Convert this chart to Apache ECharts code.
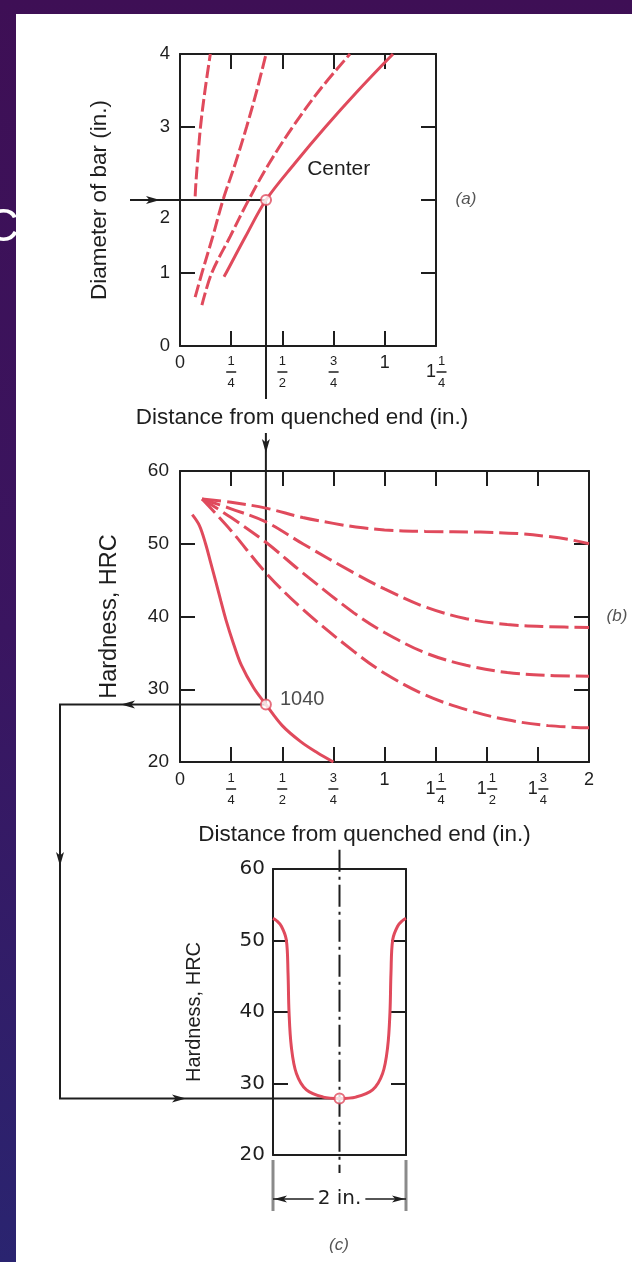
<!DOCTYPE html>
<html>
<head>
<meta charset="utf-8">
<script src="https://cdn.jsdelivr.net/npm/echarts@6/dist/echarts.min.js"></script>
<style>
  html, body { margin: 0; padding: 0; background: #fff; }
  #chart { width: 632px; height: 1262px; }
</style>
</head>
<body>
<div id="chart"></div>
<script>
// ---- Panel (a): bar diameter vs. equivalent distance from the quenched end ----
const distTicksA = ['0', '1/4', '1/2', '3/4', '1', '1 1/4'];
const diamTicks = ['0', '1', '2', '3', '4'];
// Center location (solid)
const centerDist = [0.215, 0.225, 0.32, 0.42, 0.56, 0.71, 0.87, 1.04];
const centerDiam = [0.95, 1.0, 1.5, 2.0, 2.5, 3.0, 3.5, 4.0];
// Other radial positions (dashed)
const posADist = [0.074, 0.078, 0.085, 0.10, 0.122, 0.148];
const posADiam = [2.05, 2.25, 2.5, 3.0, 3.5, 4.0];
const posBDist = [0.074, 0.107, 0.16, 0.21, 0.27, 0.325, 0.375, 0.42];
const posBDiam = [0.67, 1.0, 1.5, 2.0, 2.5, 3.0, 3.5, 4.0];
const posCDist = [0.107, 0.155, 0.245, 0.335, 0.435, 0.55, 0.68, 0.83];
const posCDiam = [0.56, 1.0, 1.5, 2.0, 2.5, 3.0, 3.5, 4.0];

// ---- Panel (b): Jominy hardness curves ----
const distTicksB = ['0', '1/4', '1/2', '3/4', '1', '1 1/4', '1 1/2', '1 3/4', '2'];
const hrcTicks = ['20', '30', '40', '50', '60'];
const steel1040Dist = [0.06, 0.095, 0.125, 0.15, 0.175, 0.2, 0.225, 0.26, 0.30, 0.36, 0.42, 0.50, 0.59, 0.67, 0.75];
const steel1040Hrc  = [54, 52.5, 50, 47.4, 44.8, 42.1, 39.5, 36.4, 33.3, 30.2, 27.9, 25.0, 22.8, 21.3, 20];
const alloyADist = [0.108, 0.25, 0.42, 0.60, 0.75, 0.86, 1.0, 1.2, 1.47, 1.65, 1.8, 1.9, 2.0];
const alloyAHrc  = [56.15, 55.7, 54.9, 53.6, 52.8, 52.3, 51.9, 51.7, 51.6, 51.4, 51.0, 50.6, 50.0];
const alloyBDist = [0.108, 0.25, 0.42, 0.60, 0.85, 1.0, 1.2, 1.4, 1.6, 1.8, 2.0];
const alloyBHrc  = [56.15, 54.8, 53.0, 50.0, 46.0, 43.8, 41.3, 39.7, 38.9, 38.6, 38.5];
const alloyCDist = [0.108, 0.25, 0.42, 0.60, 0.85, 1.0, 1.2, 1.4, 1.6, 1.8, 2.0];
const alloyCHrc  = [56.15, 53.6, 50.2, 46.0, 40.5, 37.8, 35.0, 33.3, 32.3, 31.9, 31.8];
const alloyDDist = [0.108, 0.25, 0.42, 0.60, 0.85, 1.0, 1.2, 1.4, 1.6, 1.8, 2.0];
const alloyDHrc  = [56.15, 51.8, 46.0, 41.0, 35.2, 32.2, 29.2, 27.2, 25.8, 25.0, 24.7];

// ---- Panel (c): hardness profile across a 2-in. bar ----
const radialPos = [-1.0, -0.95, -0.874, -0.80, -0.774, -0.759, -0.724, -0.648, -0.497, -0.246, 0,
                   0.246, 0.497, 0.648, 0.724, 0.759, 0.774, 0.80, 0.874, 0.95, 1.0];
const profileHrc = [53.1, 52.8, 52.0, 50.1, 45.4, 40.0, 35.1, 31.4, 29.1, 28.1, 27.9,
                    28.1, 29.1, 31.4, 35.1, 40.0, 45.4, 50.1, 52.0, 52.8, 53.1];

// Worked example: 2-in. bar of 1040 steel, centre position
const barDiam = 2.0;
const readDist = 0.42;
const centerHrc = 27.9;

const RED = '#e04a5c';
const INK = '#1e1e1e';
const FONT = '"Liberation Sans", Arial, sans-serif';
const WIDE = '"DejaVu Sans", sans-serif';

const zip = (xs, ys) => xs.map((x, i) => [x, ys[i]]);
const fracValue = s => s.split(' ').reduce((acc, p) => {
  if (p.indexOf('/') >= 0) { const [n, d] = p.split('/'); return acc + (+n) / (+d); }
  return acc + (+p);
}, 0);

function fracLabel(s) {
  const parts = s.split(' ');
  if (parts.length === 1 && s.indexOf('/') < 0) return '{i|' + s + '}';
  let whole = '', frac = s;
  if (parts.length === 2) { whole = parts[0]; frac = parts[1]; }
  const nd = frac.split('/');
  if (!whole) return '{n|' + nd[0] + '}\n{bar| }\n{d|' + nd[1] + '}';
  return '{sp| }{n|' + nd[0] + '}\n{w|' + whole + '}{bar| }\n{sp| }{d|' + nd[1] + '}';
}
function labelFor(ticks) {
  return v => {
    for (const t of ticks) if (Math.abs(fracValue(t) - v) < 1e-6) return fracLabel(t);
    return '';
  };
}
const fracRich = {
  i:   { fontFamily: FONT, fontSize: 18, lineHeight: 20, color: INK, align: 'center' },
  n:   { fontFamily: FONT, fontSize: 13, lineHeight: 16, width: 10, color: INK, align: 'center' },
  d:   { fontFamily: FONT, fontSize: 13, lineHeight: 16, width: 10, color: INK, align: 'center' },
  bar: { fontSize: 1, width: 10, height: 1.5, lineHeight: 6, backgroundColor: INK, align: 'center' },
  sp:  { fontFamily: FONT, fontSize: 12, lineHeight: 16, width: 11, align: 'center' },
  w:   { fontFamily: FONT, fontSize: 18, lineHeight: 6, width: 11, color: INK, align: 'center' }
};

const frameLine = { show: true, onZero: false, lineStyle: { color: INK, width: 2 } };
const tickIn = { show: true, inside: true, length: 15, lineStyle: { color: INK, width: 2 } };

function xAxisFor(grid, pos, min, max, extra) {
  return Object.assign({
    type: 'value', gridIndex: grid, position: pos, min: min, max: max, interval: 0.25,
    axisLine: frameLine, axisTick: tickIn, splitLine: { show: false },
    axisLabel: { show: false }
  }, extra || {});
}
function yAxisFor(grid, pos, min, max, interval, extra) {
  return Object.assign({
    type: 'value', gridIndex: grid, position: pos, min: min, max: max, interval: interval,
    axisLine: frameLine, axisTick: tickIn, splitLine: { show: false },
    axisLabel: { show: false }
  }, extra || {});
}
const nameStyle = size => ({ fontFamily: FONT, fontSize: size, color: INK });
const distName = 'Distance from quenched end (in.)';

const chart = echarts.init(document.getElementById('chart'), null, { renderer: 'canvas' });

const curveA = (xs, ys, dashed) => ({
  type: 'line', xAxisIndex: 0, yAxisIndex: 0, data: zip(xs, ys), smooth: 0.35,
  symbol: 'none', lineStyle: { color: RED, width: 3, type: dashed ? [13, 4] : 'solid' }, z: 3
});
const curveB = (xs, ys, dashed) => ({
  type: 'line', xAxisIndex: 2, yAxisIndex: 2, data: zip(xs, ys), smooth: 0.35,
  symbol: 'none', lineStyle: { color: RED, width: 3, type: dashed ? [19, 6] : 'solid' }, z: 3
});

const option = {
  animation: false,
  grid: [
    { left: 180, top: 54, width: 256, height: 292 },
    { left: 180, top: 471, width: 409, height: 291 },
    { left: 273, top: 869, width: 133, height: 286 }
  ],
  xAxis: [
    xAxisFor(0, 'bottom', 0, 1.25, {
      axisLabel: { show: true, margin: 7, verticalAlign: 'top', formatter: labelFor(distTicksA), rich: fracRich, showMinLabel: true, showMaxLabel: true },
      name: distName, nameLocation: 'middle', nameGap: 60,
      nameTextStyle: Object.assign(nameStyle(22.5), { padding: [0, 12, 0, 0] })
    }),
    xAxisFor(0, 'top', 0, 1.25),
    xAxisFor(1, 'bottom', 0, 2, {
      axisLabel: { show: true, margin: 8, verticalAlign: 'top', formatter: labelFor(distTicksB), rich: fracRich, showMinLabel: true, showMaxLabel: true },
      name: distName, nameLocation: 'middle', nameGap: 61,
      nameTextStyle: Object.assign(nameStyle(22.5), { padding: [0, 40, 0, 0] })
    }),
    xAxisFor(1, 'top', 0, 2),
    xAxisFor(2, 'bottom', -1, 1, { interval: 1, axisTick: { show: false } }),
    xAxisFor(2, 'top', -1, 1, { interval: 1, axisTick: { show: false } })
  ],
  yAxis: [
    yAxisFor(0, 'left', 0, 4, 1, {
      axisLabel: {
        show: true, margin: 10,
        // the "2" is set lower so the read-off arrow can pass over its tick
        formatter: v => (v === barDiam ? '{gap| }\n{n|' + v + '}' : '{n|' + v + '}'),
        rich: {
          n: { fontFamily: FONT, fontSize: 18.5, lineHeight: 20, color: INK },
          gap: { fontSize: 1, lineHeight: 36 }
        }
      },
      name: 'Diameter of bar (in.)', nameLocation: 'middle', nameGap: 69, nameTextStyle: nameStyle(22.5)
    }),
    yAxisFor(0, 'right', 0, 4, 1),
    yAxisFor(1, 'left', 20, 60, 10, {
      axisLabel: { show: true, margin: 11, fontFamily: FONT, fontSize: 19, color: INK },
      name: 'Hardness, HRC', nameLocation: 'middle', nameGap: 58, nameTextStyle: nameStyle(23.5)
    }),
    yAxisFor(1, 'right', 20, 60, 10),
    yAxisFor(2, 'left', 20, 60, 10, {
      axisLabel: { show: true, margin: 8, fontFamily: WIDE, fontSize: 20, color: INK },
      name: 'Hardness, HRC', nameLocation: 'middle', nameGap: 69, nameTextStyle: nameStyle(20)
    }),
    yAxisFor(2, 'right', 20, 60, 10)
  ],
  series: [
    // panel (a)
    curveA(posADist, posADiam, true),
    curveA(posBDist, posBDiam, true),
    curveA(posCDist, posCDiam, true),
    curveA(centerDist, centerDiam, false),
    // panel (b)
    curveB(alloyADist, alloyAHrc, true),
    curveB(alloyBDist, alloyBHrc, true),
    curveB(alloyCDist, alloyCHrc, true),
    curveB(alloyDDist, alloyDHrc, true),
    curveB(steel1040Dist, steel1040Hrc, false),
    // panel (c)
    { type: 'line', xAxisIndex: 4, yAxisIndex: 4, data: [[0, 62.7], [0, 17.5]], symbol: 'none', clip: false,
      lineStyle: { color: INK, width: 2, type: [22, 5, 3, 5] }, z: 1 },
    { type: 'line', xAxisIndex: 4, yAxisIndex: 4, data: zip(radialPos, profileHrc), smooth: 0.35, symbol: 'none',
      lineStyle: { color: RED, width: 3 }, z: 3 },
    // read-off points
    { type: 'scatter', xAxisIndex: 0, yAxisIndex: 0, data: [[readDist, barDiam]], symbol: 'circle', symbolSize: 10,
      itemStyle: { color: '#fff', borderColor: RED, borderWidth: 2 }, z: 6 },
    { type: 'scatter', xAxisIndex: 2, yAxisIndex: 2, data: [[readDist, centerHrc]], symbol: 'circle', symbolSize: 10,
      itemStyle: { color: '#fff', borderColor: RED, borderWidth: 2 }, z: 6,
      label: { show: true, position: 'right', distance: 8, offset: [0, -5], formatter: '1040',
               fontFamily: FONT, fontSize: 20, color: INK } },
    { type: 'scatter', xAxisIndex: 4, yAxisIndex: 4, data: [[0, centerHrc]], symbol: 'circle', symbolSize: 10,
      itemStyle: { color: '#fff', borderColor: RED, borderWidth: 2 }, z: 6 }
  ]
};
chart.setOption(option);

// ---- Slide backdrop, panel captions and the read-off path between panels ----
const pA = chart.convertToPixel({ xAxisIndex: 0, yAxisIndex: 0 }, [readDist, barDiam]);
const pB = chart.convertToPixel({ xAxisIndex: 2, yAxisIndex: 2 }, [readDist, centerHrc]);
const pC = chart.convertToPixel({ xAxisIndex: 4, yAxisIndex: 4 }, [0, centerHrc]);
const cL = chart.convertToPixel({ xAxisIndex: 4, yAxisIndex: 4 }, [-1, 20]);
const cR = chart.convertToPixel({ xAxisIndex: 4, yAxisIndex: 4 }, [1, 20]);
const cTxt = chart.convertToPixel({ xAxisIndex: 0, yAxisIndex: 0 }, [0.775, 2.42]);

const lineStyle = { stroke: INK, lineWidth: 2, fill: null };
function seg(points) { return { type: 'polyline', shape: { points: points }, style: lineStyle, z: 1 }; }
function arrow(x, y, dir, len, half, color) {
  let pts;
  const back = len * 0.75;
  if (dir === 'r') pts = [[x, y], [x - len, y - half], [x - back, y], [x - len, y + half]];
  if (dir === 'l') pts = [[x, y], [x + len, y - half], [x + back, y], [x + len, y + half]];
  if (dir === 'd') pts = [[x, y], [x - half, y - len], [x, y - back], [x + half, y - len]];
  return { type: 'polygon', shape: { points: pts }, style: { fill: color || INK }, z: 2 };
}
function caption(text, x, y, font, extra) {
  return { type: 'text', x: x, y: y, z: 5,
    style: Object.assign({ text: text, fill: INK, font: font, textAlign: 'center', textVerticalAlign: 'middle' }, extra || {}) };
}
const GRAY = '#8a8a8a';
const dimY = 1199;

chart.setOption({
  graphic: [
    { type: 'rect', z: -100, shape: { x: 0, y: 0, width: 632, height: 1262 },
      style: { fill: new echarts.graphic.LinearGradient(0, 0, 0, 1, [
        { offset: 0, color: '#3e0f55' }, { offset: 0.5, color: '#3a1560' }, { offset: 1, color: '#2a2470' }]) } },
    { type: 'text', z: -99, x: 19, y: 228,
      style: { text: 'C', fill: '#ffffff', font: '46px ' + FONT, textAlign: 'right', textVerticalAlign: 'middle' } },
    { type: 'rect', z: -98, shape: { x: 16, y: 14, width: 616, height: 1248 }, style: { fill: '#ffffff' } },

    // (a) → (b) → (c) read-off path
    seg([[130, pA[1]], [pA[0], pA[1]]]),
    arrow(160, pA[1], 'r', 14, 4),
    seg([[pA[0], pA[1]], [pA[0], 399]]),
    seg([[pB[0], 433], [pB[0], pB[1]]]),
    arrow(pB[0], 453, 'd', 14, 4),
    seg([[pB[0], pB[1]], [60, pB[1]], [60, pC[1]], [pC[0], pC[1]]]),
    arrow(121, pB[1], 'l', 14, 4),
    arrow(60, 866, 'd', 14, 4),
    arrow(186, pC[1], 'r', 14, 4),

    // 2-in. dimension under panel (c)
    { type: 'line', z: 1, shape: { x1: cL[0], y1: 1160, x2: cL[0], y2: 1211 }, style: { stroke: GRAY, lineWidth: 3 } },
    { type: 'line', z: 1, shape: { x1: cR[0], y1: 1160, x2: cR[0], y2: 1211 }, style: { stroke: GRAY, lineWidth: 3 } },
    { type: 'line', z: 1, shape: { x1: cL[0], y1: dimY, x2: cR[0], y2: dimY }, style: { stroke: INK, lineWidth: 1.5 } },
    arrow(cL[0] + 1, dimY, 'l', 13, 3.5),
    arrow(cR[0] - 1, dimY, 'r', 13, 3.5),
    caption('2 in.', (cL[0] + cR[0]) / 2, dimY, '20px ' + WIDE, { backgroundColor: '#fff', padding: [0, 4, 0, 4] }),

    // labels and panel captions
    caption('Center', cTxt[0], cTxt[1], '21px ' + FONT),
    caption('(a)', 466, 199, 'italic 17px ' + FONT, { fill: '#555' }),
    caption('(b)', 617, 616, 'italic 17px ' + FONT, { fill: '#555' }),
    caption('(c)', 339, 1245, 'italic 17px ' + FONT, { fill: '#555' })
  ]
});
</script>
</body>
</html>
